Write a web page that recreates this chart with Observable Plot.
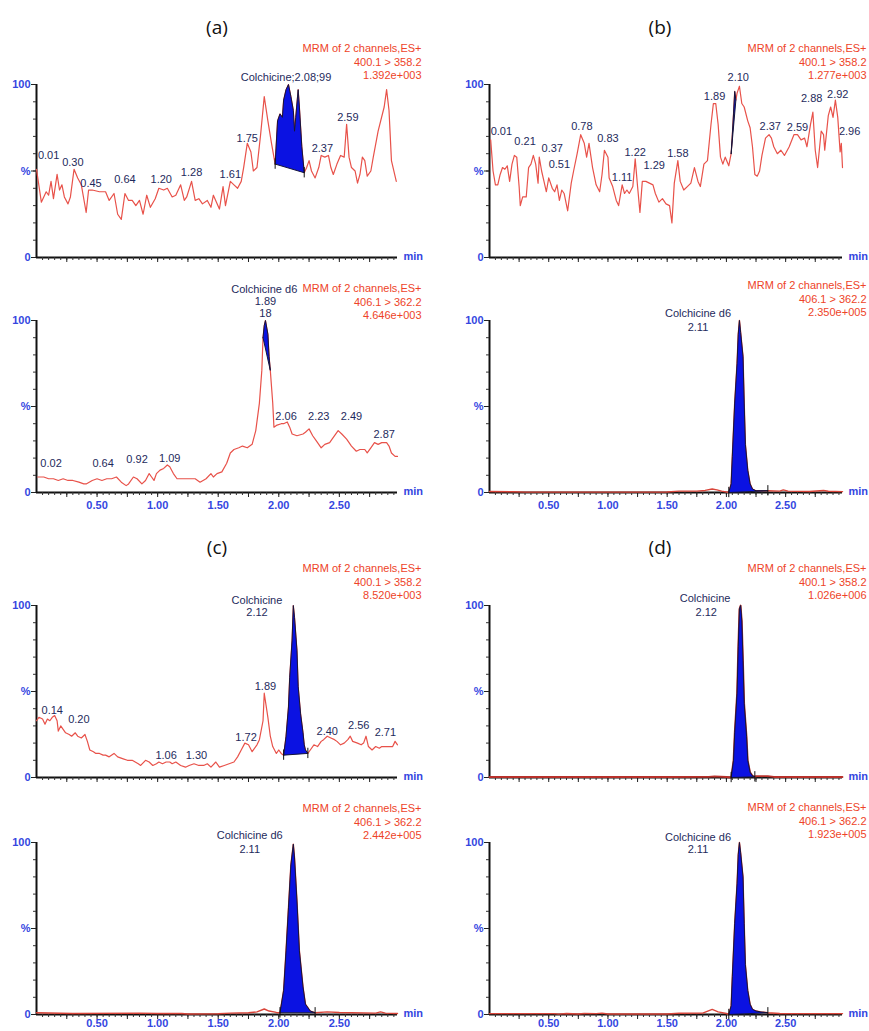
<!DOCTYPE html>
<html><head><meta charset="utf-8">
<script src="https://cdn.jsdelivr.net/npm/d3@7"></script>
<script src="https://cdn.jsdelivr.net/npm/@observablehq/plot@0.6"></script>
<style>
body{margin:0;background:#fff}
#root{position:relative;width:869px;height:1031px;overflow:hidden;background:#fff}
.panel{position:absolute}
.ttl{position:absolute;font-family:"Open Sans",sans-serif;font-size:19px;line-height:1;transform:translateX(-50%);color:#111}
</style></head><body><div id="root"></div>
<script>
// ---------- data: retention time (min), relative intensity (%) ----------
const titles = ["(a)", "(b)", "(c)", "(d)"];
const hdrAnalyte = ["MRM of 2 channels,ES+", "400.1 > 358.2"];
const hdrIS = ["MRM of 2 channels,ES+", "406.1 > 362.2"];
const scaleA1 = "1.392e+003", scaleA2 = "4.646e+003", scaleB1 = "1.277e+003", scaleB2 = "2.350e+005";
const scaleC1 = "8.520e+003", scaleC2 = "2.442e+005", scaleD1 = "1.026e+006", scaleD2 = "1.923e+005";
const xTickLabels = [0.5, 1.0, 1.5, 2.0, 2.5];

// (a) top
const a1Pre = [[0.00,51],[0.04,32],[0.08,38],[0.10,36],[0.12,44],[0.14,34],[0.17,48],[0.19,39],[0.21,42],[0.23,35],[0.26,31],[0.28,35],[0.31,51],[0.34,46],[0.37,42],[0.41,26],[0.43,39],[0.46,39],[0.52,38],[0.57,38],[0.60,33],[0.64,37],[0.67,25],[0.70,22],[0.73,37],[0.76,33],[0.79,33],[0.82,30],[0.85,33],[0.88,25],[0.91,36],[0.94,29],[0.98,34],[1.01,40],[1.05,39],[1.08,40],[1.12,35],[1.15,36],[1.19,42],[1.22,33],[1.24,35],[1.28,44],[1.31,33],[1.34,34],[1.37,31],[1.41,33],[1.44,29],[1.46,36],[1.51,28],[1.54,41],[1.56,30],[1.60,44],[1.63,42],[1.66,40],[1.69,44],[1.71,52],[1.74,66],[1.77,61],[1.79,50],[1.82,52],[1.85,71],[1.88,93],[1.91,79],[1.94,66]];
const a1Peak = [[1.97,54],[1.99,79],[2.01,83],[2.03,81],[2.04,91],[2.06,97],[2.08,100],[2.10,93],[2.12,85],[2.13,73],[2.14,81],[2.16,97],[2.17,87],[2.19,64],[2.21,49]];
const a1Post = [[2.23,52],[2.25,56],[2.27,50],[2.30,46],[2.33,52],[2.35,59],[2.38,58],[2.41,59],[2.43,52],[2.45,48],[2.48,54],[2.51,59],[2.54,58],[2.56,77],[2.58,58],[2.60,52],[2.63,50],[2.65,43],[2.67,48],[2.69,58],[2.71,56],[2.73,47],[2.76,50],[2.78,58],[2.82,73],[2.87,87],[2.89,97],[2.91,85],[2.93,56],[2.97,44]];
const a1Labels = [[0.10,59,"0.01"],[0.30,55,"0.30"],[0.45,43,"0.45"],[0.73,45,"0.64"],[1.03,45,"1.20"],[1.28,49,"1.28"],[1.60,48,"1.61"],[1.74,69,"1.75"],[2.06,104,"Colchicine;2.08;99"],[2.36,63,"2.37"],[2.57,81,"2.59"]];

// (a) bottom
const a2Pre = [[0.01,9],[0.06,9],[0.10,8],[0.14,8],[0.18,7],[0.22,8],[0.26,7],[0.30,7],[0.35,6],[0.39,5],[0.41,5],[0.46,7],[0.50,8],[0.54,7],[0.58,8],[0.62,8],[0.66,9],[0.70,6],[0.74,4],[0.76,5],[0.80,9],[0.83,8],[0.87,5],[0.90,7],[0.93,11],[0.95,9],[0.97,7],[0.99,11],[1.02,13],[1.05,14],[1.08,16],[1.10,15],[1.13,11],[1.16,8],[1.22,8],[1.27,8],[1.31,8],[1.35,6],[1.40,8],[1.44,11],[1.46,9],[1.49,11],[1.53,12],[1.57,17],[1.60,23],[1.63,25],[1.67,26],[1.70,27],[1.74,26],[1.78,28],[1.81,36],[1.84,52],[1.86,71]];
const a2Peak = [[1.87,90],[1.88,97],[1.89,100],[1.91,92],[1.92,79],[1.93,71]];
const a2Post = [[1.95,52],[1.96,38],[1.98,39],[2.02,40],[2.04,40],[2.07,41],[2.09,38],[2.11,34],[2.15,33],[2.20,34],[2.22,35],[2.25,37],[2.28,33],[2.31,30],[2.35,26],[2.38,28],[2.42,29],[2.44,31],[2.49,36],[2.52,34],[2.56,31],[2.60,27],[2.64,24],[2.67,25],[2.71,25],[2.73,23],[2.76,26],[2.79,29],[2.82,28],[2.85,29],[2.89,29],[2.91,27],[2.93,23],[2.96,21],[2.98,21]];
const a2Labels = [[1.88,118,"Colchicine d6"],[1.89,111,"1.89"],[1.89,104,"18"],[0.12,17,"0.02"],[0.55,17,"0.64"],[0.83,19,"0.92"],[1.10,20,"1.09"],[2.06,44,"2.06"],[2.33,44,"2.23"],[2.60,44,"2.49"],[2.87,34,"2.87"]];

// (b) top
const b1Pre = [[0.01,68],[0.03,50],[0.05,42],[0.07,42],[0.09,48],[0.11,52],[0.13,51],[0.15,53],[0.17,44],[0.19,54],[0.21,59],[0.23,58],[0.25,41],[0.26,30],[0.28,35],[0.31,35],[0.33,52],[0.35,54],[0.37,59],[0.39,54],[0.41,43],[0.42,58],[0.44,50],[0.46,44],[0.48,38],[0.50,46],[0.53,40],[0.55,38],[0.57,42],[0.59,33],[0.61,39],[0.63,37],[0.66,27],[0.69,43],[0.71,50],[0.74,60],[0.77,71],[0.80,66],[0.82,58],[0.84,66],[0.87,52],[0.90,42],[0.93,38],[0.95,48],[0.97,62],[1.00,58],[1.01,46],[1.04,41],[1.07,33],[1.09,30],[1.12,42],[1.14,37],[1.16,39],[1.18,37],[1.21,41],[1.23,57],[1.25,41],[1.27,26],[1.29,44],[1.32,44],[1.35,43],[1.38,42],[1.40,37],[1.43,32],[1.46,34],[1.49,31],[1.52,30],[1.54,20],[1.56,43],[1.59,56],[1.61,44],[1.64,39],[1.67,41],[1.70,43],[1.73,52],[1.76,44],[1.78,41],[1.81,54],[1.84,56],[1.87,77],[1.89,89],[1.91,89],[1.93,77],[1.95,58],[1.97,54],[1.99,58],[2.02,53]];
const b1Peak = [[2.04,60],[2.05,71],[2.06,83],[2.07,96],[2.08,91]];
const b1Post = [[2.09,95],[2.11,99],[2.13,89],[2.15,87],[2.18,79],[2.20,75],[2.22,64],[2.24,48],[2.26,47],[2.28,50],[2.30,59],[2.33,69],[2.36,71],[2.38,69],[2.40,64],[2.43,60],[2.46,62],[2.49,59],[2.53,64],[2.57,71],[2.60,71],[2.63,68],[2.66,69],[2.68,64],[2.71,77],[2.73,84],[2.75,62],[2.77,52],[2.80,73],[2.82,71],[2.83,62],[2.86,82],[2.88,87],[2.90,81],[2.92,91],[2.94,81],[2.96,61],[2.97,66],[2.98,52]];
const b1Labels = [[0.10,73,"0.01"],[0.30,67,"0.21"],[0.53,63,"0.37"],[0.59,54,"0.51"],[0.78,76,"0.78"],[1.00,69,"0.83"],[1.12,46,"1.11"],[1.23,61,"1.22"],[1.39,53,"1.29"],[1.59,60,"1.58"],[1.90,93,"1.89"],[2.10,104,"2.10"],[2.37,76,"2.37"],[2.60,75,"2.59"],[2.72,92,"2.88"],[2.94,94,"2.92"],[3.04,73,"2.96"]];

// (b) bottom
const b2Pre = [[0.00,0.6],[0.20,0.4],[0.30,0.2],[0.60,0.2],[1.00,0.2],[1.50,0.3],[1.60,0.8],[1.75,0.8],[1.82,1.2],[1.88,2.0],[1.92,1.5],[1.96,0.8]];
const b2Peak = [[2.02,0],[2.04,5],[2.05,21],[2.07,52],[2.09,75],[2.10,92],[2.11,100],[2.12,93],[2.14,79],[2.15,52],[2.16,28],[2.18,13],[2.20,5],[2.22,2],[2.25,1],[2.29,1],[2.35,1]];
const b2Post = [[2.45,0.8],[2.48,1.5],[2.52,0.8],[2.70,0.6],[2.82,1.2],[2.86,0.7],[2.98,0.5]];
const b2Labels = [[1.76,104,"Colchicine d6"],[1.76,96,"2.11"]];

// (c) top
const c1Pre = [[0.00,33],[0.02,35],[0.05,34],[0.07,31],[0.09,34],[0.11,33],[0.13,35],[0.15,36],[0.17,33],[0.18,27],[0.20,30],[0.22,28],[0.24,26],[0.27,25],[0.29,24],[0.32,26],[0.34,24],[0.37,23],[0.40,25],[0.42,21],[0.44,16],[0.47,15],[0.49,14],[0.52,14],[0.55,13],[0.57,13],[0.60,12],[0.64,14],[0.67,12],[0.71,11],[0.75,10],[0.79,10],[0.84,8],[0.86,7],[0.90,10],[0.93,9],[0.96,7],[0.99,8],[1.01,9],[1.04,8],[1.07,9],[1.10,9],[1.12,8],[1.15,9],[1.19,7],[1.23,6],[1.26,7],[1.30,8],[1.34,7],[1.38,7],[1.41,8],[1.44,6],[1.48,9],[1.51,6],[1.55,7],[1.59,8],[1.63,9],[1.66,12],[1.69,16],[1.72,20],[1.75,19],[1.78,15],[1.82,19],[1.84,22],[1.87,33],[1.88,49],[1.91,35],[1.93,24],[1.95,18],[1.98,14],[2.00,16],[2.02,14]];
const c1Peak = [[2.04,13],[2.06,24],[2.08,41],[2.09,58],[2.11,80],[2.12,100],[2.13,93],[2.15,74],[2.16,53],[2.18,37],[2.20,26],[2.21,19],[2.22,16],[2.24,14]];
const c1Post = [[2.26,16],[2.29,19],[2.32,18],[2.35,21],[2.37,22],[2.40,24],[2.43,23],[2.46,22],[2.48,21],[2.51,19],[2.54,20],[2.57,22],[2.59,24],[2.61,21],[2.65,20],[2.68,19],[2.70,20],[2.72,24],[2.74,18],[2.77,16],[2.80,18],[2.83,17],[2.85,18],[2.88,18],[2.91,18],[2.94,18],[2.96,21],[2.98,19]];
const c1Labels = [[0.13,39,"0.14"],[0.35,34,"0.20"],[1.07,13,"1.06"],[1.32,13,"1.30"],[1.73,23,"1.72"],[1.89,53,"1.89"],[1.82,103,"Colchicine"],[1.82,96,"2.12"],[2.40,27,"2.40"],[2.66,30,"2.56"],[2.88,26,"2.71"]];

// (c) bottom
const c2Pre = [[0.00,1],[0.30,0.6],[0.85,0.8],[1.00,0.6],[1.20,0.6],[1.25,0.3],[1.50,0.4],[1.60,0.8],[1.75,1],[1.82,1.5],[1.88,3.2],[1.92,2],[1.98,1.2]];
const c2Peak = [[2.01,1],[2.04,14],[2.06,37],[2.08,62],[2.10,87],[2.12,99],[2.13,91],[2.15,66],[2.17,37],[2.20,16],[2.22,6],[2.26,2],[2.30,1]];
const c2Post = [[2.40,1.5],[2.50,1.2],[2.80,0.8],[2.84,1.5],[2.88,0.8],[2.98,0.6]];
const c2Labels = [[1.76,104,"Colchicine d6"],[1.76,96,"2.11"]];

// (d) top
const d1Pre = [[0.00,0.3],[0.50,0.3],[1.00,0.3],[1.50,0.3],[1.85,0.4],[1.90,0.6],[2.00,0.3]];
const d1Peak = [[2.04,0],[2.06,10],[2.07,26],[2.09,49],[2.10,76],[2.11,98],[2.12,100],[2.13,91],[2.14,68],[2.15,43],[2.17,24],[2.18,10],[2.20,3],[2.22,1],[2.24,0.4]];
const d1Post = [[2.25,0.8],[2.35,0.8],[2.40,0.3],[2.98,0.3]];
const d1Labels = [[1.82,104,"Colchicine"],[1.83,96,"2.12"]];

// (d) bottom
const d2Pre = [[0.00,0.5],[0.55,0.5],[0.58,0.2],[0.65,0.6],[0.75,0.3],[0.80,0.6],[0.90,0.5],[0.95,0.8],[1.00,0.3],[1.50,0.3],[1.60,0.7],[1.80,0.8],[1.88,3],[1.93,1.5],[2.00,0.6]];
const d2Peak = [[2.02,0],[2.04,5],[2.05,22],[2.07,53],[2.09,76],[2.10,93],[2.11,100],[2.12,94],[2.14,80],[2.15,53],[2.16,29],[2.18,14],[2.20,6],[2.22,3],[2.25,2],[2.29,1.5],[2.35,1]];
const d2Post = [[2.45,0.6],[2.98,0.5]];
const d2Labels = [[1.76,103,"Colchicine d6"],[1.76,96,"2.11"]];

// ---------- styling / layout ----------
const BLUE_TXT = "#3446df", HDR = "#ee4328", LBL = "#1e2a5c", FILL = "#0b12e2", EDGE = "#15153a";
const XMAX = 2.98;
const cols = [{left:0, width:435, mL:36, mR:38}, {left:435, width:434, mL:54, mR:27}];
const rows = [
  {top:38, height:237, mT:46, mB:18, labels:false, pad:9},
  {top:278, height:238, mT:42, mB:24, labels:true, pad:9},
  {top:558, height:237, mT:47, mB:18, labels:false, pad:9},
  {top:798, height:233, mT:44, mB:17, labels:true, pad:5}
];

const panels = [
  {c:0, r:0, pre:a1Pre, peak:a1Peak, post:a1Post, labels:a1Labels, hdr:hdrAnalyte, scale:scaleA1, hdy:-42, color:"#e8524a", sw:1.2, bounds:true},
  {c:0, r:1, pre:a2Pre, peak:a2Peak, post:a2Post, labels:a2Labels, hdr:hdrIS, scale:scaleA2, hdy:-38, color:"#e8524a", sw:1.2, bounds:false},
  {c:1, r:0, pre:b1Pre, peak:b1Peak, post:b1Post, labels:b1Labels, hdr:hdrAnalyte, scale:scaleB1, hdy:-42, color:"#e8524a", sw:1.2, bounds:false},
  {c:1, r:1, pre:b2Pre, peak:b2Peak, post:b2Post, labels:b2Labels, hdr:hdrIS, scale:scaleB2, hdy:-41, color:"#d9453a", sw:1.4, bounds:true},
  {c:0, r:2, pre:c1Pre, peak:c1Peak, post:c1Post, labels:c1Labels, hdr:hdrAnalyte, scale:scaleC1, hdy:-43, color:"#e8524a", sw:1.2, bounds:true},
  {c:0, r:3, pre:c2Pre, peak:c2Peak, post:c2Post, labels:c2Labels, hdr:hdrIS, scale:scaleC2, hdy:-40, color:"#d9453a", sw:1.4, bounds:true},
  {c:1, r:2, pre:d1Pre, peak:d1Peak, post:d1Post, labels:d1Labels, hdr:hdrAnalyte, scale:scaleD1, hdy:-43, color:"#b8302a", sw:1.8, bounds:true},
  {c:1, r:3, pre:d2Pre, peak:d2Peak, post:d2Post, labels:d2Labels, hdr:hdrIS, scale:scaleD2, hdy:-41, color:"#d9453a", sw:1.4, bounds:true}
];

const root = document.getElementById("root");
const toObj = ([t, v]) => ({t, v});
const minorX = d3.range(1, 60).map(i => i * 0.05).filter(t => t < XMAX);
const majorX = d3.range(1, 12).map(i => i * 0.25).filter(t => t < XMAX);
const minorY = d3.range(10, 100, 10);

for (const p of panels) {
  const col = cols[p.c], row = rows[p.r];
  const trace = p.pre.concat(p.peak, p.post).map(toObj);
  const peak = p.peak.map(toObj);
  const outline = peak.concat([peak[0]]);
  const ends = [peak[0], peak[peak.length - 1]];
  const labels = p.labels.map(([t, y, s]) => ({t, y, s}));
  const marks = [
    Plot.ruleY([0], {stroke: "#111", strokeWidth: 2}),
    Plot.ruleX([0], {stroke: "#111", strokeWidth: 2}),
    Plot.axisY({ticks: minorY, tickSize: 3, tickFormat: () => "", stroke: "#333", label: null}),
    Plot.axisY({ticks: [0, 50, 100], tickSize: 5, tickPadding: 1, tickFormat: d => d === 50 ? "%" : String(d), stroke: "#222", fill: BLUE_TXT, fontWeight: "bold", label: null}),
    Plot.axisX({ticks: minorX, tickSize: 3, tickFormat: () => "", stroke: "#333", label: null}),
    Plot.axisX({ticks: majorX, tickSize: 5, tickFormat: () => "", stroke: "#222", label: null}),
    row.labels ? Plot.axisX({ticks: xTickLabels, tickSize: 0, tickPadding: row.pad, tickFormat: d3.format(".2f"), fill: BLUE_TXT, fontWeight: "bold", label: null}) : null,
    Plot.line(trace, {x: "t", y: "v", stroke: p.color, strokeWidth: p.sw}),
    Plot.line(peak, {x: "t", y: "v", fill: FILL, stroke: "none"}),
    Plot.line(outline, {x: "t", y: "v", stroke: EDGE, strokeWidth: 1}),
    p.bounds ? Plot.ruleX(ends, {x: "t", y1: d => d.v - 3, y2: d => d.v + 3, stroke: "#111", strokeWidth: 1}) : null,
    Plot.text(["min"], {frameAnchor: "bottom-right", textAnchor: "start", dx: 6, dy: 2, fill: BLUE_TXT, fontWeight: "bold"}),
    Plot.text([p.hdr.concat([p.scale]).join("\n")], {frameAnchor: "top-right", textAnchor: "end", lineAnchor: "top", dx: 24, dy: p.hdy, fill: HDR, lineHeight: 1.23}),
    Plot.text(labels, {x: "t", y: "y", text: "s", fill: LBL})
  ].filter(Boolean);
  const svg = Plot.plot({
    width: col.width, height: row.height,
    marginLeft: col.mL, marginRight: col.mR, marginTop: row.mT, marginBottom: row.mB,
    x: {domain: [0, XMAX]},
    y: {domain: [0, 100]},
    style: {fontFamily: "'Liberation Sans', Arial, sans-serif", fontSize: "11px", background: "transparent", overflow: "visible"},
    marks
  });
  svg.classList.add("panel");
  svg.style.left = col.left + "px";
  svg.style.top = row.top + "px";
  root.appendChild(svg);
}

const titlePos = [[217, 18], [660, 18], [217, 538], [660, 538]];
titles.forEach((t, i) => {
  const d = document.createElement("div");
  d.className = "ttl";
  d.textContent = t;
  d.style.left = titlePos[i][0] + "px";
  d.style.top = titlePos[i][1] + "px";
  root.appendChild(d);
});
</script></body></html>
